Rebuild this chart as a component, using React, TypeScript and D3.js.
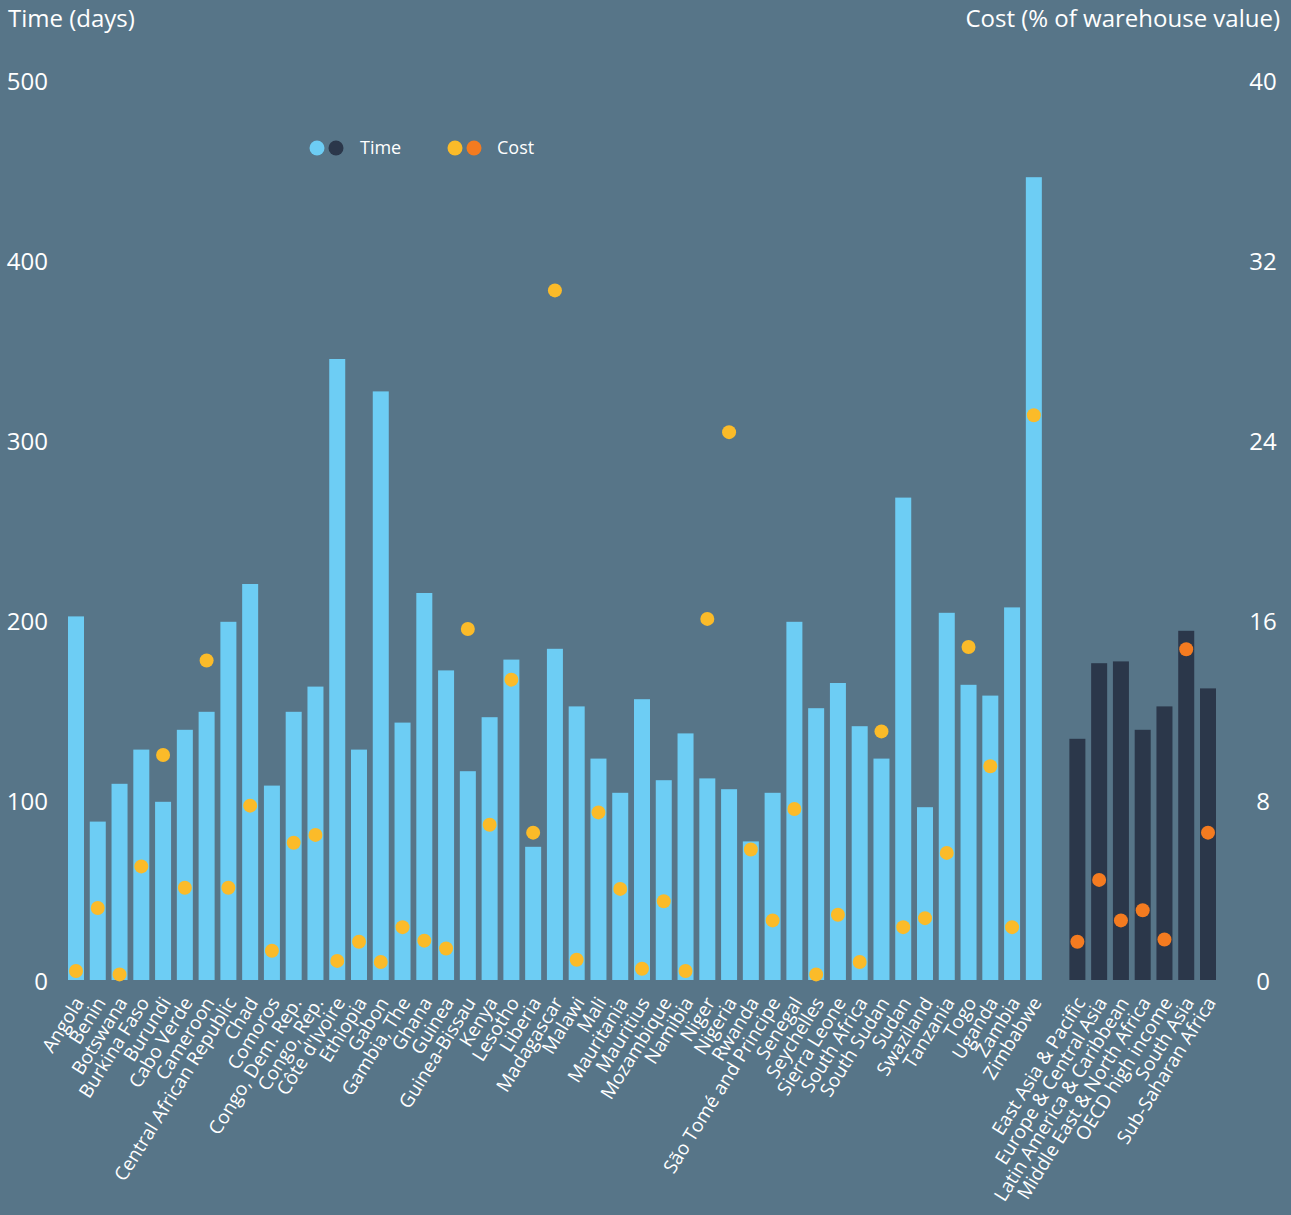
import React, { useEffect, useRef } from 'react';
import * as d3 from 'd3';

// countries + regional aggregates (blank slot between them)
const countries = [
  'Angola', 'Benin', 'Botswana', 'Burkina Faso', 'Burundi', 'Cabo Verde', 'Cameroon',
  'Central African Republic', 'Chad', 'Comoros', 'Congo, Dem. Rep.', 'Congo, Rep.',
  "Côte d'Ivoire", 'Ethiopia', 'Gabon', 'Gambia, The', 'Ghana', 'Guinea', 'Guinea-Bissau',
  'Kenya', 'Lesotho', 'Liberia', 'Madagascar', 'Malawi', 'Mali', 'Mauritania', 'Mauritius',
  'Mozambique', 'Namibia', 'Niger', 'Nigeria', 'Rwanda', 'São Tomé and Principe', 'Senegal',
  'Seychelles', 'Sierra Leone', 'South Africa', 'South Sudan', 'Sudan', 'Swaziland',
  'Tanzania', 'Togo', 'Uganda', 'Zambia', 'Zimbabwe'
];
const countryTime = [
  202, 88, 109, 128, 99, 139, 149, 199, 220, 108, 149, 163, 345, 128, 327, 143, 215, 172, 116,
  146, 178, 74, 184, 152, 123, 104, 156, 111, 137, 112, 106, 77, 104, 199, 151, 165, 141, 123,
  268, 96, 204, 164, 158, 207, 446
];
const countryCost = [
  0.4, 3.2, 0.25, 5.05, 10.0, 4.1, 14.2, 4.1, 7.75, 1.3, 6.1, 6.45, 0.85, 1.7, 0.8, 2.35, 1.75,
  1.4, 15.6, 6.9, 13.35, 6.55, 30.65, 0.9, 7.45, 4.05, 0.5, 3.5, 0.4, 16.05, 24.35, 5.8, 2.65,
  7.6, 0.25, 2.9, 0.8, 11.05, 2.35, 2.75, 5.65, 14.8, 9.5, 2.35, 25.1
];

const regions = [
  'East Asia & Pacific', 'Europe & Central Asia', 'Latin America & Caribbean',
  'Middle East & North Africa', 'OECD high income', 'South Asia', 'Sub-Saharan Africa'
];
const regionTime = [134, 176, 177, 139, 152, 194, 162];
const regionCost = [1.7, 4.45, 2.65, 3.1, 1.8, 14.7, 6.55];

const timeTicks = [0, 100, 200, 300, 400, 500];
const costTicks = [0, 8, 16, 24, 32, 40];

const BG = '#577588';
const TIME_C = '#6dcdf4';
const TIME_R = '#2b374a';
const COST_C = '#fbbb29';
const COST_R = '#f47b20';
const FONT = "'Open Sans', 'Noto Sans', sans-serif";

export default function App() {
  const ref = useRef<SVGSVGElement>(null);

  useEffect(() => {
    const w = 1291, h = 1215;
    const svg = d3.select(ref.current);
    svg.selectAll('*').remove();

    svg.append('rect').attr('width', w).attr('height', h).attr('fill', BG);

    const rows = [
      ...countries.map((c, i) => ({ name: c, time: countryTime[i], cost: countryCost[i], region: false })),
      { name: '', time: null, cost: null, region: false },
      ...regions.map((c, i) => ({ name: c, time: regionTime[i], cost: regionCost[i], region: true }))
    ];

    const x = d3.scaleBand<string>()
      .domain(rows.map((d, i) => i + ''))
      .range([68, 1216])
      .paddingInner(0.265)
      .paddingOuter(0);

    const yTime = d3.scaleLinear().domain([0, 500]).range([980, 80]);
    const yCost = d3.scaleLinear().domain([0, 40]).range([980, 80]);

    // axis titles
    svg.append('text').attr('x', 8).attr('y', 27)
      .attr('fill', '#fff').attr('font-family', FONT).attr('font-size', 24)
      .text('Time (days)');
    svg.append('text').attr('x', 1280).attr('y', 27).attr('text-anchor', 'end')
      .attr('fill', '#fff').attr('font-family', FONT).attr('font-size', 24)
      .text('Cost (% of warehouse value)');

    // tick labels
    svg.append('g').selectAll('text').data(timeTicks).enter().append('text')
      .attr('x', 48).attr('y', d => yTime(d)).attr('dy', '0.42em')
      .attr('text-anchor', 'end').attr('fill', '#fff')
      .attr('font-family', FONT).attr('font-size', 24)
      .text(d => d);
    svg.append('g').selectAll('text').data(costTicks).enter().append('text')
      .attr('x', 1263).attr('y', d => yCost(d)).attr('dy', '0.42em')
      .attr('text-anchor', 'middle').attr('fill', '#fff')
      .attr('font-family', FONT).attr('font-size', 24)
      .text(d => d);

    // bars
    const data = rows.map((d, i) => ({ ...d, key: i + '' })).filter(d => d.time !== null);
    svg.append('g').selectAll('rect').data(data).enter().append('rect')
      .attr('x', d => x(d.key))
      .attr('y', d => yTime(d.time))
      .attr('width', x.bandwidth())
      .attr('height', d => yTime(0) - yTime(d.time))
      .attr('fill', d => d.region ? TIME_R : TIME_C);

    // cost dots
    svg.append('g').selectAll('circle').data(data).enter().append('circle')
      .attr('cx', d => x(d.key) + x.bandwidth() / 2)
      .attr('cy', d => yCost(d.cost))
      .attr('r', 7)
      .attr('fill', d => d.region ? COST_R : COST_C);

    // category labels
    svg.append('g').selectAll('text').data(data).enter().append('text')
      .attr('transform', d => 'translate(' + (x(d.key) + x.bandwidth() / 2 + 3) + ',999) rotate(-58)')
      .attr('text-anchor', 'end').attr('dy', '0.35em')
      .attr('fill', '#fff').attr('font-family', FONT).attr('font-size', 19)
      .text(d => d.name);

    // legend
    const lg = svg.append('g');
    lg.append('circle').attr('cx', 317).attr('cy', 148).attr('r', 7.5).attr('fill', TIME_C);
    lg.append('circle').attr('cx', 336).attr('cy', 148).attr('r', 7.5).attr('fill', TIME_R);
    lg.append('text').attr('x', 360).attr('y', 148).attr('dy', '0.35em')
      .attr('fill', '#fff').attr('font-family', FONT).attr('font-size', 18).text('Time');
    lg.append('circle').attr('cx', 455).attr('cy', 148).attr('r', 7.5).attr('fill', COST_C);
    lg.append('circle').attr('cx', 474).attr('cy', 148).attr('r', 7.5).attr('fill', COST_R);
    lg.append('text').attr('x', 497).attr('y', 148).attr('dy', '0.35em')
      .attr('fill', '#fff').attr('font-family', FONT).attr('font-size', 18).text('Cost');
  }, []);

  return (
    <svg ref={ref} width={1291} height={1215}
      style={{ position: 'absolute', left: 0, top: 0, display: 'block' }} />
  );
}
